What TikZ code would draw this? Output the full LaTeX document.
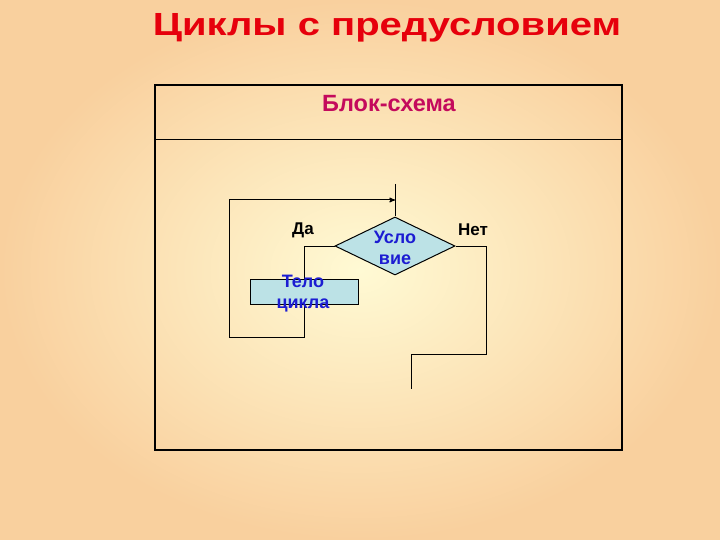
\documentclass[tikz,border=0pt]{standalone}
\usepackage{fontspec}
\usepackage{graphicx}
\setmainfont{Liberation Sans}
\usetikzlibrary{shapes.geometric}
\usetikzlibrary{arrows}
\usetikzlibrary{backgrounds}
\definecolor{titlered}{RGB}{230,0,12}
\definecolor{headpink}{RGB}{196,10,92}
\definecolor{boxblue}{RGB}{188,226,230}
\definecolor{textblue}{RGB}{28,28,210}
\definecolor{bginner}{RGB}{255,250,212}
\definecolor{bgouter}{RGB}{249,208,158}

\tikzset{
  blockbox/.style={draw=black, line width=1pt, fill=boxblue, inner sep=0pt},
  blocktext/.style={text=textblue, font=\bfseries\fontsize{18}{21}\selectfont, align=center},
  branchlabel/.style={font=\bfseries\fontsize{17}{19}\selectfont},
  flow/.style={black, line width=1pt}
}

\begin{document}
\begin{tikzpicture}[x=1pt,y=-1pt]
\useasboundingbox (0,0) rectangle (720,540);

\node[text=titlered, font=\bfseries\fontsize{32}{38}\selectfont] (title) at (387,28) {\scalebox{1.25}[1]{Циклы с предусловием}};
\node[text=headpink, font=\bfseries\fontsize{23.5}{27}\selectfont] (head) at (389,104) {Блок-схема};

% blocks
\node[blockbox, diamond, minimum width=120pt, minimum height=58pt] (cond) at (395,246) {};
\node[blocktext] (condtext) at (395,248) {Усло\\вие};
\node[blockbox, minimum width=108pt, minimum height=25pt] (body) at (304,291.5) {};
\node[blocktext] (bodytext) at (303,294) {Тело\\цикла};
\node[branchlabel] (yes) at (303,230) {Да};
\node[branchlabel] (no) at (473,230) {Нет};

\coordinate (entry) at (395,184);
\coordinate (join) at (395,200);
\coordinate (exit) at (411,389);

\begin{pgfonlayer}{background}
\shade[inner color=bginner, outer color=bgouter] (0,0) rectangle (720,540);
\draw[black, line width=1.8pt] (155,85) rectangle (622,450);
\draw[black, line width=1pt] (155,140) -- (622,140);
\draw[flow] (entry) -- (cond.north);
\draw[flow] (cond.west) -| (body.north);
\draw[flow, ->, >=stealth'] (body.south) |- (229,337) |- (join);
\draw[flow] (cond.east) -| (486,354) -| (exit);
\end{pgfonlayer}

\end{tikzpicture}
\end{document}
